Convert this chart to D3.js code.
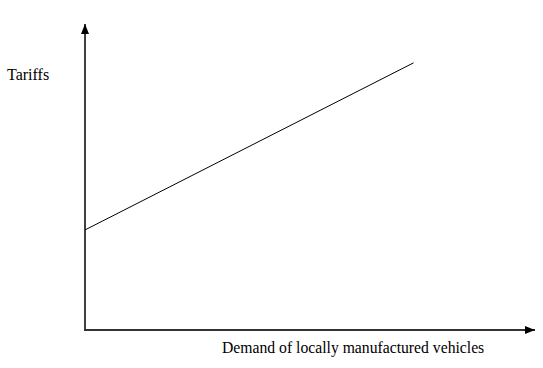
<!DOCTYPE html>
<html>
<head>
<meta charset="utf-8">
<script src="https://cdn.jsdelivr.net/npm/d3@7"></script>
<style>
    body { margin: 0; background: #fff; }
</style>
</head>
<body>
<svg id="chart" width="543" height="368"></svg>
<script>
// axis domains (arbitrary units, conceptual diagram)
var xDomain = [0, 100];
var yDomain = [0, 100];

// the supply line: demand vs tariffs
var lineX = [0, 73];
var lineY = [32.7, 87.3];

var xLabel = "Demand of locally manufactured vehicles";
var yLabel = "Tariffs";

var font = "'Times New Roman', 'Liberation Serif', 'DejaVu Serif', serif";

var svg = d3.select("#chart");

var x = d3.scaleLinear().domain(xDomain).range([85, 535]);
var y = d3.scaleLinear().domain(yDomain).range([330, 24]);

// arrow head
svg.append("defs")
    .append("marker")
    .attr("id", "arrow")
    .attr("viewBox", "0 0 10 10")
    .attr("refX", 10)
    .attr("refY", 5)
    .attr("markerWidth", 10)
    .attr("markerHeight", 10)
    .attr("markerUnits", "userSpaceOnUse")
    .attr("orient", "auto")
    .append("path")
    .attr("d", "M0,1 L10,5 L0,9 Z")
    .attr("fill", "#000");

// y axis
svg.append("line")
    .attr("x1", x(0))
    .attr("y1", y(0) + 1)
    .attr("x2", x(0))
    .attr("y2", y(yDomain[1]))
    .attr("stroke", "#000")
    .attr("stroke-width", 1.5)
    .attr("marker-end", "url(#arrow)");

// x axis
svg.append("line")
    .attr("x1", x(0) - 1)
    .attr("y1", y(0))
    .attr("x2", x(xDomain[1]))
    .attr("y2", y(0))
    .attr("stroke", "#333")
    .attr("stroke-width", 2)
    .attr("marker-end", "url(#arrow)");

var data = lineX.map((d, i) => [d, lineY[i]]);

svg.append("path")
    .datum(data)
    .attr("d", d3.line().x(d => x(d[0])).y(d => y(d[1])))
    .attr("fill", "none")
    .attr("stroke", "#000")
    .attr("stroke-width", 1);

svg.append("text")
    .attr("x", 7)
    .attr("y", 79.5)
    .attr("font-family", font)
    .attr("font-size", 16)
    .text(yLabel);

svg.append("text")
    .attr("x", 222)
    .attr("y", 352.5)
    .attr("font-family", font)
    .attr("font-size", 15.7)
    .text(xLabel);
</script>
</body>
</html>
